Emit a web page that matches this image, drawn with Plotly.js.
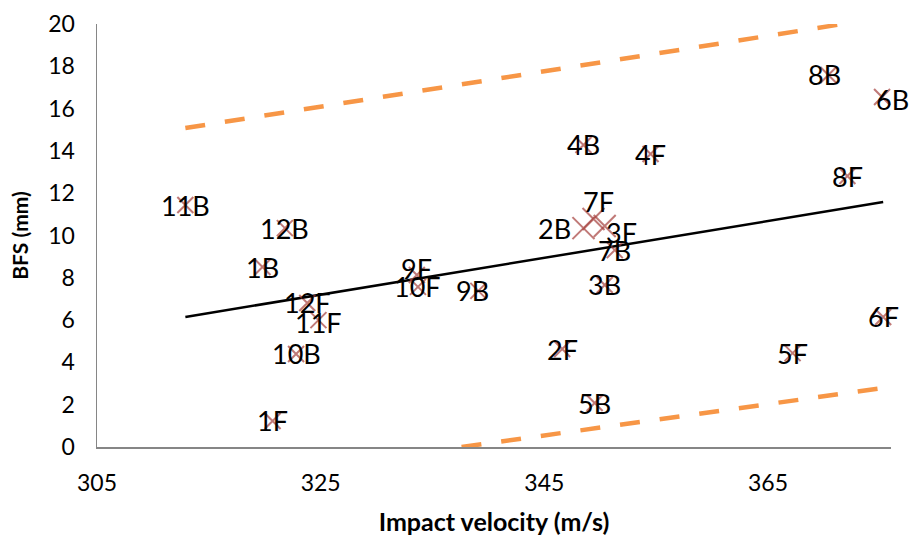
<!DOCTYPE html>
<html>
<head>
<meta charset="utf-8">
<script src="https://cdn.plot.ly/plotly-3.0.1.min.js"></script>
<style>
  html, body { margin: 0; padding: 0; background: #ffffff; }
  #chart { width: 909px; height: 536px; }
</style>
</head>
<body>
<div id="chart"></div>
<script>
// Specimen labels
const labels = ["11B","12B","1B","12F","11F","10B","1F","9F","10F","9B",
                "4B","4F","7F","2B","3F","7B","3B","2F","5B",
                "8B","6B","8F","6F","5F"];
// Impact velocity (m/s)
const velocity = [312.9, 321.8, 319.8, 323.8, 324.8, 322.8, 320.7, 333.6, 333.7, 339.1,
                  348.5, 354.5, 349.4, 348.5, 350.4, 351.3, 350.4, 346.6, 349.5,
                  370.4, 375.2, 372.1, 375.3, 367.2];
// BFS (mm)
const bfs = [11.44, 10.35, 8.51, 6.81, 6.00, 4.40, 1.23, 8.13, 7.57, 7.38,
             14.28, 13.85, 10.78, 10.35, 10.45, 9.31, 7.66, 4.63, 2.08,
             17.59, 16.55, 12.81, 6.15, 4.44];

// Linear trend line endpoints
const trendX = [312.9, 375.3];
const trendY = [6.15, 11.58];
// Prediction band (upper and lower), visible portions
const upperX = [312.9, 371.7];
const upperY = [15.08, 20.0];
const lowerX = [337.6, 375.3];
const lowerY = [0.0, 2.79];

const xTicks = [305, 325, 345, 365];
const yTicks = [0, 2, 4, 6, 8, 10, 12, 14, 16, 18, 20];

// styling per point (not data): marker size and label pixel offsets
const bigSet = new Set(["7F","2B","3F"]);
const markerSizes = labels.map(l => bigSet.has(l) ? 22 : 16);
const labelShift = {"2B": [-29, 0], "7F": [5, 18], "3F": [17, -7], "6B": [10, -3],
                    "9F": [0, 7], "8B": [-4, 0], "9B": [-6, 0], "11F": [0, -2]};

const font = "Lato, 'Open Sans', sans-serif";

const traces = [
  {
    x: upperX, y: upperY, mode: "lines", type: "scatter",
    line: {color: "#F79646", width: 4.5, dash: "20px,20px"},
    hoverinfo: "skip", showlegend: false
  },
  {
    x: lowerX, y: lowerY, mode: "lines", type: "scatter",
    line: {color: "#F79646", width: 4.5, dash: "20px,20px"},
    hoverinfo: "skip", showlegend: false
  },
  {
    x: trendX, y: trendY, mode: "lines", type: "scatter",
    line: {color: "#000000", width: 2.5},
    hoverinfo: "skip", showlegend: false
  },
  {
    x: velocity, y: bfs, mode: "markers", type: "scatter",
    marker: {symbol: "x-thin-open", size: markerSizes, color: "#A5403D",
             line: {color: "#A5403D", width: 2}},
    cliponaxis: false,
    showlegend: false
  }
];

const annotations = labels.map((l, i) => {
  const s = labelShift[l] || [0, 0];
  return {
    x: velocity[i], y: bfs[i], xref: "x", yref: "y", text: l,
    showarrow: false, xanchor: "center", yanchor: "middle",
    xshift: s[0], yshift: s[1],
    font: {family: font, size: 27, color: "#000000"}
  };
});

const layout = {
  width: 909, height: 536,
  margin: {l: 97, r: 18, t: 24, b: 89},
  paper_bgcolor: "#ffffff", plot_bgcolor: "#ffffff",
  showlegend: false,
  annotations: annotations,
  xaxis: {
    range: [305, 376], tickvals: xTicks, ticktext: xTicks.map(String),
    showgrid: false, zeroline: false, showline: true, linecolor: "#868686", linewidth: 1.5,
    ticks: "", tickfont: {family: font, size: 23, color: "#000000"}, ticklabelstandoff: 15,
    title: {text: "Impact velocity (m/s)", font: {family: font, size: 25, color: "#000000", weight: "bold"}, standoff: 18}
  },
  yaxis: {
    range: [0, 20], tickvals: yTicks, ticktext: yTicks.map(String),
    showgrid: false, zeroline: false, showline: true, linecolor: "#868686", linewidth: 1.5,
    ticks: "", tickfont: {family: font, size: 23, color: "#000000"}, ticklabelstandoff: 16,
    title: {text: "BFS (mm)", font: {family: font, size: 21, color: "#000000", weight: "bold"}, standoff: 14}
  }
};

Plotly.newPlot("chart", traces, layout, {displayModeBar: false, staticPlot: true});
</script>
</body>
</html>
